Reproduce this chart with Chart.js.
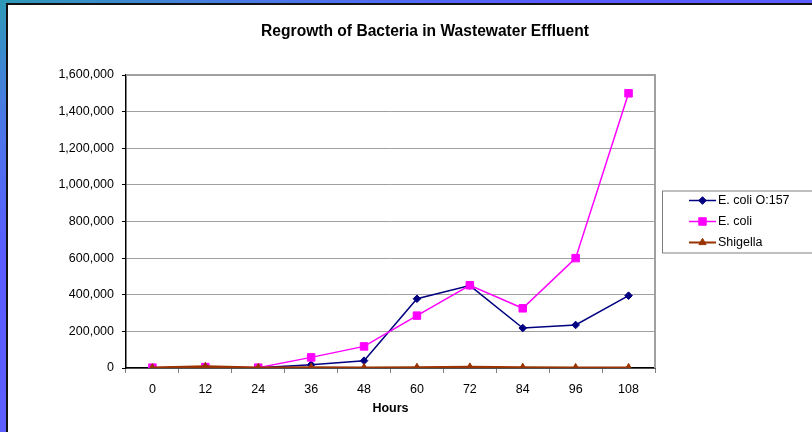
<!DOCTYPE html>
<html><head><meta charset="utf-8">
<script src="https://cdn.jsdelivr.net/npm/chart.js@4/dist/chart.umd.min.js"></script>
<style>
html,body{margin:0;padding:0;width:812px;height:432px;overflow:hidden;}
body{position:relative;background:linear-gradient(155deg,#2e9ab6 0%,#4a7ae4 14%,#5a5cff 32%,#6464ff 100%);}
#frame{position:absolute;left:6px;top:3px;width:840px;height:450px;background:#fff;border-left:2px solid #111;border-top:2px solid #111;}
canvas{display:block;}
</style></head><body>
<div id="frame"><canvas id="c" width="820" height="427"></canvas></div>
<script>
const FONT = '"Liberation Sans", Arial, Helvetica, sans-serif';
const chartTitle = 'Regrowth of Bacteria in Wastewater Effluent';
const xTitle = 'Hours';
const hours = ['0','12','24','36','48','60','72','84','96','108'];
const ecoliO157 = [1000, 3000, 1000, 18000, 40000, 378000, 450000, 218000, 235000, 395000];
const ecoli     = [2000, 5000, 2000, 58000, 118000, 286000, 452000, 326000, 600000, 1500000];
const shigella  = [1000, 8000, 2000, 3000, 2000, 3000, 5000, 3000, 2000, 2000];
const yTicks = [0, 200000, 400000, 600000, 800000, 1000000, 1200000, 1400000, 1600000];
const seriesNames = ['E. coli O:157', 'E. coli', 'Shigella'];

const styles = [
  {color:'#000080', pointStyle:'rectRot', radius:3.8, lineWidth:1.5},
  {color:'#ff00ff', pointStyle:'rect', radius:5.3, lineWidth:1.5},
  {color:'#993300', pointStyle:'triangle', radius:4.2, lineWidth:2.5}
];

function drawMarker(ctx, st, x, y){
  ctx.fillStyle = st.color; ctx.strokeStyle = st.color; ctx.lineWidth = 1;
  if (Chart.helpers && Chart.helpers.drawPoint) {
    Chart.helpers.drawPoint(ctx, {pointStyle: st.pointStyle, radius: st.radius, rotation: 0, borderWidth: 1}, x, y);
  }
}

const decor = {
  id: 'decor',
  beforeDatasetsDraw(chart){
    const {ctx, chartArea: a} = chart;
    ctx.save();
    ctx.strokeStyle = '#a0a0a0'; ctx.lineWidth = 2;
    ctx.beginPath(); ctx.moveTo(a.left, a.top); ctx.lineTo(a.right, a.top); ctx.lineTo(a.right, a.bottom); ctx.stroke();
    ctx.restore();
  },
  afterDraw(chart){
    const {ctx, chartArea: a} = chart;
    ctx.save();
    // title
    ctx.fillStyle = '#000';
    ctx.font = 'bold 15.6px ' + FONT;
    ctx.textAlign = 'center'; ctx.textBaseline = 'middle';
    ctx.fillText(chartTitle, 417, 27);
    // legend
    const cy = (a.top + a.bottom) / 2;
    const boxL = a.right + 7, boxT = cy - 31;
    ctx.strokeStyle = '#808080'; ctx.lineWidth = 1;
    ctx.strokeRect(boxL + 0.5, boxT + 0.5, 180, 62);
    ctx.font = '12.5px ' + FONT;
    ctx.textAlign = 'left';
    seriesNames.forEach((name, i) => {
      const y = cy + (i - 1) * 21;
      const st = styles[i];
      ctx.strokeStyle = st.color; ctx.lineWidth = st.lineWidth > 2 ? 2 : 1.5;
      ctx.beginPath(); ctx.moveTo(a.right + 34, y); ctx.lineTo(a.right + 61, y); ctx.stroke();
      drawMarker(ctx, st, a.right + 47.5, y);
      ctx.fillStyle = '#000';
      ctx.fillText(name, a.right + 63, y + 0.5);
    });
    ctx.restore();
  }
};

const data = {
  labels: hours,
  datasets: [ecoliO157, ecoli, shigella].map((vals, i) => ({
    label: seriesNames[i],
    data: vals,
    borderColor: styles[i].color,
    backgroundColor: styles[i].color,
    borderWidth: styles[i].lineWidth,
    pointStyle: styles[i].pointStyle,
    pointRadius: styles[i].radius,
    pointBorderWidth: 1,
    pointBackgroundColor: styles[i].color,
    pointBorderColor: styles[i].color,
    tension: 0,
    fill: false,
    order: 3 - i
  }))
};

new Chart(document.getElementById('c'), {
  type: 'line',
  data,
  options: {
    responsive: false,
    animation: false,
    events: [],
    layout: {padding: {top: 70, right: 173, left: 0, bottom: 0}},
    plugins: {legend: {display: false}, title: {display: false}, tooltip: {enabled: false}},
    scales: {
      x: {
        type: 'category', offset: true,
        grid: {display: true, drawOnChartArea: false, drawTicks: true, tickLength: 5, tickColor: '#808080', offset: true},
        border: {display: true, color: '#000', width: 1.5},
        ticks: {color: '#000', font: {family: FONT, size: 12.5}, padding: 9, maxRotation: 0, autoSkip: false},
        title: {display: true, text: xTitle, color: '#000', font: {family: FONT, size: 12.5, weight: 'bold'}, padding: {top: 0, bottom: 16}},
        afterFit(s){ s.height = 64; }
      },
      y: {
        min: 0, max: 1600000,
        afterBuildTicks(s){ s.ticks = yTicks.map(v => ({value: v})); },
        grid: {color: '#a0a0a0', lineWidth: 1, tickLength: 4, tickColor: '#000'},
        border: {display: true, color: '#000', width: 1.5},
        ticks: {color: '#000', font: {family: FONT, size: 12.5}, padding: 8, callback: v => v.toLocaleString('en-US')},
        afterFit(s){ s.width = 118; }
      }
    }
  },
  plugins: [decor]
});
</script>
</body></html>
